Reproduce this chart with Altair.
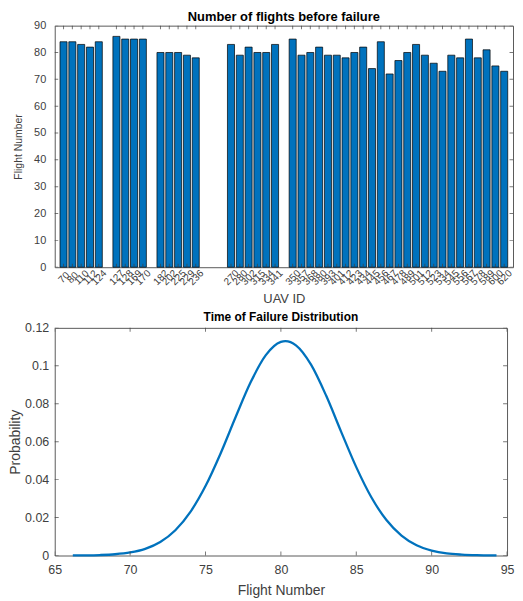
import altair as alt
import pandas as pd

# ---------------- data ----------------
uav_ids = ["70", "80", "110", "112", "124",
           "127", "128", "169", "170",
           "182", "202", "225", "229", "236",
           "270", "280", "302", "315", "334", "341",
           "350", "357", "368", "380", "393", "401", "412", "423", "434", "445",
           "456", "467", "478", "489", "501", "512", "523", "534", "545", "556",
           "567", "578", "589", "600", "620"]
flights = [84, 84, 83, 82, 84,
           86, 85, 85, 85,
           80, 80, 80, 79, 78,
           83, 79, 82, 80, 80, 83,
           85, 79, 80, 82, 79, 79, 78, 80, 82, 74, 84, 72, 77, 80, 83, 79, 76, 73,
           79, 78, 85, 78, 81, 75, 73]
slots = [1, 2, 3, 4, 5,
         7, 8, 9, 10,
         12, 13, 14, 15, 16,
         20, 21, 22, 23, 24, 25,
         27, 28, 29, 30, 31, 32, 33, 34, 35, 36, 37, 38, 39, 40, 41, 42, 43, 44,
         45, 46, 47, 48, 49, 50, 51]
slot_domain = [0, 52]
top_y_ticks = [0, 10, 20, 30, 40, 50, 60, 70, 80, 90]

flight_number = [66.2, 67, 68, 69, 70, 71, 72, 73, 74, 75, 76, 77, 78, 79, 80, 80.3,
                 81, 82, 83, 84, 85, 86, 87, 88, 89, 90, 91, 92, 93, 94, 94.3]
probability = [0.00004, 0.00009, 0.00026, 0.00067, 0.0016, 0.0035, 0.0071, 0.0133,
               0.0230, 0.0366, 0.0538, 0.0730, 0.0914, 0.1056, 0.1126, 0.1130,
               0.1108, 0.1006, 0.0843, 0.0652, 0.0466, 0.0307, 0.0187, 0.0105,
               0.0054, 0.0026, 0.0011, 0.00047, 0.00017, 0.00006, 0.00005]
bot_x_ticks = [65, 70, 75, 80, 85, 90, 95]
bot_y_ticks = [0, 0.02, 0.04, 0.06, 0.08, 0.1, 0.12]

# ---------------- style ----------------
BLUE = "#0072BD"
AX = "#404040"
FONT = "Liberation Sans"
TW, TH = 461, 243
BW, BH = 455, 229

bars_df = pd.DataFrame({"slot": slots, "uav": uav_ids, "flights": flights})
label_arr = [""] * (slot_domain[1] + 1)
for s, u in zip(slots, uav_ids):
    label_arr[s] = u
label_expr = "[" + ",".join("'" + l + "'" for l in label_arr) + "][datum.value]"

xs_top = alt.Scale(domain=slot_domain, nice=False, zero=False)
ys_top = alt.Scale(domain=[0, 90], nice=False)

bars = alt.Chart(bars_df).transform_calculate(
    x0="datum.slot - 0.4", x1="datum.slot + 0.4", base="0"
).mark_bar(color=BLUE, stroke="black", strokeWidth=0.7).encode(
    x=alt.X("x0:Q", scale=xs_top, axis=alt.Axis(
        values=slots, labelExpr=label_expr, labelAngle=-45, labelAlign="center",
        labelBaseline="middle", labelPadding=10, ticks=False, grid=False,
        labelOverlap=False, labelFlush=False, labelFontSize=10, domain=False,
        title="UAV ID", titleFontSize=13, titleFontWeight="normal", titlePadding=6)),
    x2="x1:Q",
    y=alt.Y("flights:Q", scale=ys_top, axis=alt.Axis(
        values=top_y_ticks, ticks=False, grid=False, domain=False,
        labelFontSize=11, labelPadding=9,
        title="Flight Number", titleFontSize=10.5, titleFontWeight="normal",
        titlePadding=10)),
    y2="base:Q",
)

ytk_top = pd.DataFrame({"v": top_y_ticks})
xtk_top = pd.DataFrame({"s": slots})
tick_kw = dict(thickness=1, color=AX, clip=True)
top_layers = [bars]
for xv in [0, TW]:
    top_layers.append(alt.Chart(ytk_top).mark_tick(orient="horizontal", size=7, **tick_kw).encode(
        y=alt.Y("v:Q", scale=ys_top, axis=None), x=alt.value(xv)))
for yv in [0, TH]:
    top_layers.append(alt.Chart(xtk_top).mark_tick(orient="vertical", size=7, **tick_kw).encode(
        x=alt.X("s:Q", scale=xs_top, axis=None), y=alt.value(yv)))

top = alt.layer(*top_layers).resolve_axis(x="independent", y="independent").properties(
    width=TW, height=TH,
    title=alt.TitleParams("Number of flights before failure", fontSize=13,
                          fontWeight="bold", color="black", offset=-4),
)

curve_df = pd.DataFrame({"flight": flight_number, "prob": probability})
xs_bot = alt.Scale(domain=[65, 95], nice=False, zero=False)
ys_bot = alt.Scale(domain=[0, 0.12], nice=False)

line = alt.Chart(curve_df).mark_line(color=BLUE, strokeWidth=2.3, interpolate="monotone").encode(
    x=alt.X("flight:Q", scale=xs_bot, axis=alt.Axis(
        values=bot_x_ticks, ticks=False, grid=False, domain=False, labelFontSize=12.5,
        labelPadding=8, labelFlush=False,
        title="Flight Number", titleFontSize=14, titleFontWeight="normal", titlePadding=8)),
    y=alt.Y("prob:Q", scale=ys_bot, axis=alt.Axis(
        values=bot_y_ticks, labelExpr="'' + datum.value", ticks=False, grid=False,
        domain=False, labelFontSize=12.5, labelPadding=6, labelFlush=False,
        title="Probability", titleFontSize=14, titleFontWeight="normal", titlePadding=2)),
)
ytk_bot = pd.DataFrame({"v": bot_y_ticks})
xtk_bot = pd.DataFrame({"v": bot_x_ticks})
bot_layers = [line]
for xv in [0, BW]:
    bot_layers.append(alt.Chart(ytk_bot).mark_tick(orient="horizontal", size=8, **tick_kw).encode(
        y=alt.Y("v:Q", scale=ys_bot, axis=None), x=alt.value(xv)))
for yv in [0, BH]:
    bot_layers.append(alt.Chart(xtk_bot).mark_tick(orient="vertical", size=8, **tick_kw).encode(
        x=alt.X("v:Q", scale=xs_bot, axis=None), y=alt.value(yv)))

bottom = alt.layer(*bot_layers).resolve_axis(x="independent", y="independent").properties(
    width=BW, height=BH,
    title=alt.TitleParams("Time of Failure Distribution", fontSize=12,
                          fontWeight="bold", color="black", offset=-2),
)

chart = alt.ConcatChart(concat=[top, bottom], columns=1, spacing=4).properties(
    padding={"left": 0, "top": 0, "right": 0, "bottom": 0}
).configure(font=FONT).configure_view(
    stroke="#5a5a5a", strokeWidth=1
).configure_axis(
    labelColor=AX, titleColor=AX, labelFont=FONT, titleFont=FONT
).configure_title(font=FONT)

chart.save("out.html", embed_options={"renderer": "svg", "actions": False})
